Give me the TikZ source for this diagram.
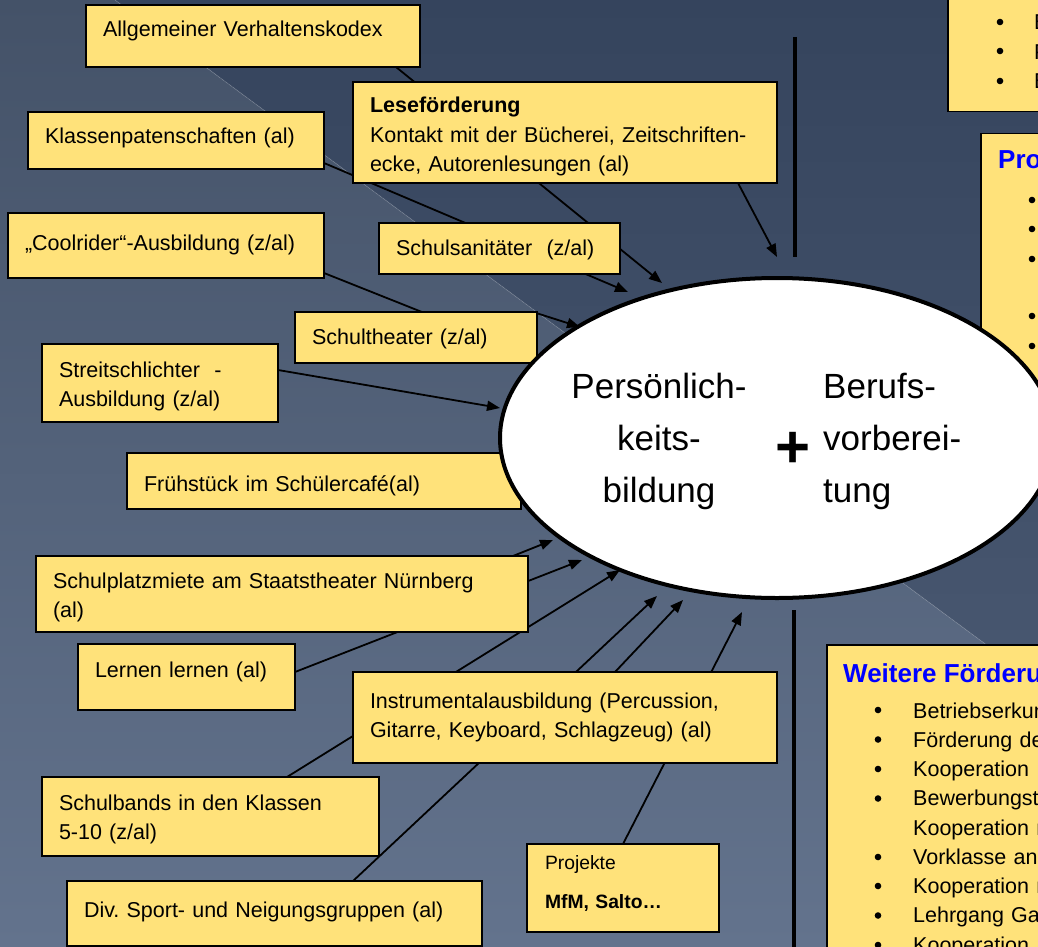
\documentclass[tikz,border=0pt]{standalone}
\usepackage{fontspec}
\setmainfont{Liberation Sans}
\usetikzlibrary{arrows.meta,shapes.geometric}
\definecolor{boxyellow}{RGB}{255,226,122}
\definecolor{bgtopL}{RGB}{68,82,104}
\definecolor{bgbotL}{RGB}{99,115,141}
\definecolor{bgtopD}{RGB}{53,68,93}
\definecolor{bgbotD}{RGB}{72,87,112}
\definecolor{titleblue}{RGB}{0,0,255}
\newcommand\bxfont{\fontsize{21.5}{29.5}\selectfont}
\newcommand\elfont{\fontsize{35}{52}\selectfont}
\tikzset{
  box/.style={draw=black, line width=1.5pt, fill=boxyellow, anchor=north west,
    inner xsep=17pt, inner ysep=0pt, outer sep=0pt, align=left, font=\bxfont},
  sidebox/.style={draw=black, line width=1.5pt, fill=boxyellow},
  link/.style={line width=1.8pt, -{Triangle[length=13pt,width=10pt]}},
  bar/.style={line width=4pt},
  bullet/.style={fill=black},
  title/.style={font=\fontsize{26}{30}\selectfont\bfseries, text=titleblue, anchor=base west, inner sep=0pt},
  listtext/.style={font=\fontsize{21.5}{29.25}\selectfont, anchor=base west, inner sep=0pt, align=left, text width=300pt},
  eltext/.style={font=\elfont, inner sep=0pt}
}
\begin{document}
\begin{tikzpicture}[x=1pt,y=-1pt]
\useasboundingbox (0,0) rectangle (1038,947);
\clip (0,0) rectangle (1038,947);
% background
\shade[top color=bgtopL, bottom color=bgbotL] (0,0) -- (115,0) -- (1038,683) -- (1038,947) -- (0,947) -- cycle;
\shade[top color=bgtopD, bottom color=bgbotD] (115,0) -- (1038,0) -- (1038,683) -- cycle;
\draw[white, opacity=0.15, line width=0.8pt] (115,0) -- (1038,683);

% connector end points
\coordinate (kodexS) at (396,67);   \coordinate (kodexT) at (662,283);
\coordinate (klassS) at (324,163);  \coordinate (klassT) at (628,292);
\coordinate (leseS)  at (738,183);  \coordinate (leseT)  at (777,257);
\coordinate (coolS)  at (324,273);  \coordinate (coolT)  at (540,359);
\coordinate (theaS)  at (533,312);  \coordinate (theaT)  at (580,327);
\coordinate (streS)  at (278,370);  \coordinate (streT)  at (500,408);
\coordinate (platS)  at (513,556);  \coordinate (platT)  at (553,540);
\coordinate (lernS)  at (295,672);  \coordinate (lernT)  at (582,560);
\coordinate (bandS)  at (287,777);  \coordinate (bandT)  at (620,570);
\coordinate (sporS)  at (353,881);  \coordinate (sporT)  at (657,596);
\coordinate (instS)  at (615,672);  \coordinate (instT)  at (683,600);
\coordinate (projS)  at (623,844);  \coordinate (projT)  at (742,612);
\coordinate (barAtop) at (795,37);  \coordinate (barAbot) at (795,257);
\coordinate (barBtop) at (794,610); \coordinate (barBbot) at (794,950);

% connectors
\draw[link] (kodexS) -- (kodexT);
\draw[link] (klassS) -- (klassT);
\draw[link] (leseS) -- (leseT);
\draw[link] (coolS) -- (coolT);
\draw[link] (theaS) -- (theaT);
\draw[link] (streS) -- (streT);
\draw[link] (platS) -- (platT);
\draw[link] (lernS) -- (lernT);
\draw[link] (bandS) -- (bandT);
\draw[link] (sporS) -- (sporT);
\draw[link] (instS) -- (instT);
\draw[link] (projS) -- (projT);
\draw[bar] (barAtop) -- (barAbot);
\draw[bar] (barBtop) -- (barBbot);

% left boxes
\node[box, text width=300pt, text height=32pt, text depth=30pt] (kodex) at (86,5) {Allgemeiner Verhaltenskodex};
\node[box, text width=390pt, text height=31pt, text depth=70pt] (lese) at (353,82) {\textbf{Leseförderung}\\Kontakt mit der Bücherei, Zeitschriften-\\ecke, Autorenlesungen (al)};
\node[box, text width=262pt, text height=31pt, text depth=26pt] (klass) at (28,112) {Klassenpatenschaften (al)};
\node[box, text width=282pt, text height=37pt, text depth=28pt] (cool) at (8,213) {„Coolrider“-Ausbildung (z/al)};
\node[box, text width=207pt, text height=32pt, text depth=19pt] (sani) at (379,223) {Schulsanitäter\ \ (z/al)};
\node[box, text width=208pt, text height=32pt, text depth=19pt] (thea) at (295,312) {Schultheater (z/al)};
\node[box, text width=202pt, text height=33pt, text depth=45pt] (stre) at (42,344) {Streitschlichter\ \ -\\Ausbildung (z/al)};
\node[box, text width=360pt, text height=38pt, text depth=18pt] (frueh) at (127,453) {Frühstück im Schülercafé(al)};
\node[box, text width=458pt, text height=32pt, text depth=44pt] (plat) at (36,556) {Schulplatzmiete am Staatstheater Nürnberg\\(al)};
\node[box, text width=183pt, text height=33pt, text depth=33pt] (lern) at (78,644) {Lernen lernen (al)};
\node[box, text width=390pt, text height=36pt, text depth=55pt] (inst) at (353,672) {Instrumentalausbildung (Percussion,\\Gitarre, Keyboard, Schlagzeug) (al)};
\node[box, text width=303pt, text height=33pt, text depth=46pt] (band) at (42,777) {Schulbands in den Klassen\\5-10 (z/al)};
\node[box, text width=381pt, text height=36pt, text depth=29pt] (spor) at (67,881) {Div.\ Sport- und Neigungsgruppen (al)};
\node[box, font=\fontsize{19.3}{39}\selectfont, inner xsep=18pt, text width=156pt, text height=25pt, text depth=63pt] (proj) at (527,844) {Projekte\\\textbf{MfM, Salto…}};

% right boxes
\node[sidebox, anchor=north west, minimum width=150pt, minimum height=125pt, inner sep=0pt] (topbox) at (947,-14) {};
\foreach \yy in {22,51,81} \fill[bullet] (1000,\yy) circle (3.3pt);
\node[font=\fontsize{21.5}{29.5}\selectfont, anchor=base west, inner sep=0pt, align=left, text width=60pt] (toptext) at (1034,30) {B\\P\\B};

\node[sidebox, anchor=north west, minimum width=150pt, minimum height=337pt, inner sep=0pt] (probox) at (980,133) {};
\node[title] (protitle) at (998,168) {Pro};
\foreach \yy in {200,229,259,316,346} \fill[bullet] (1032,\yy) circle (3.3pt);

\node[sidebox, anchor=north west, minimum width=250pt, minimum height=320pt, inner sep=0pt] (weitbox) at (826,644) {};
\node[title] (weittitle) at (843,682) {Weitere Förderung};
\foreach \yy in {710,739.5,769,798.5,857,886,915.5,945} \fill[bullet] (878,\yy) circle (3.3pt);
\node[listtext] (weitlist) at (913,718) {Betriebserkun\\Förderung de\\Kooperation\\Bewerbungst\\Kooperation m\\Vorklasse an\\Kooperation m\\Lehrgang Ga\\Kooperation};

% central ellipse
\node[ellipse, draw=black, line width=4pt, fill=white, minimum width=554pt, minimum height=320pt, inner sep=0pt] (ell) at (777,438) {};
\node[eltext, text width=220pt, align=center, anchor=base] (pers) at (659,398) {Persönlich-\\keits-\\bildung};
\node[eltext, text width=200pt, align=left, anchor=base west] (beruf) at (823,398) {Berufs-\\vorberei-\\tung};
\node[font=\fontsize{60}{60}\selectfont\bfseries, inner sep=0pt, anchor=base] (plus) at (793,467) {+};
\end{tikzpicture}
\end{document}
